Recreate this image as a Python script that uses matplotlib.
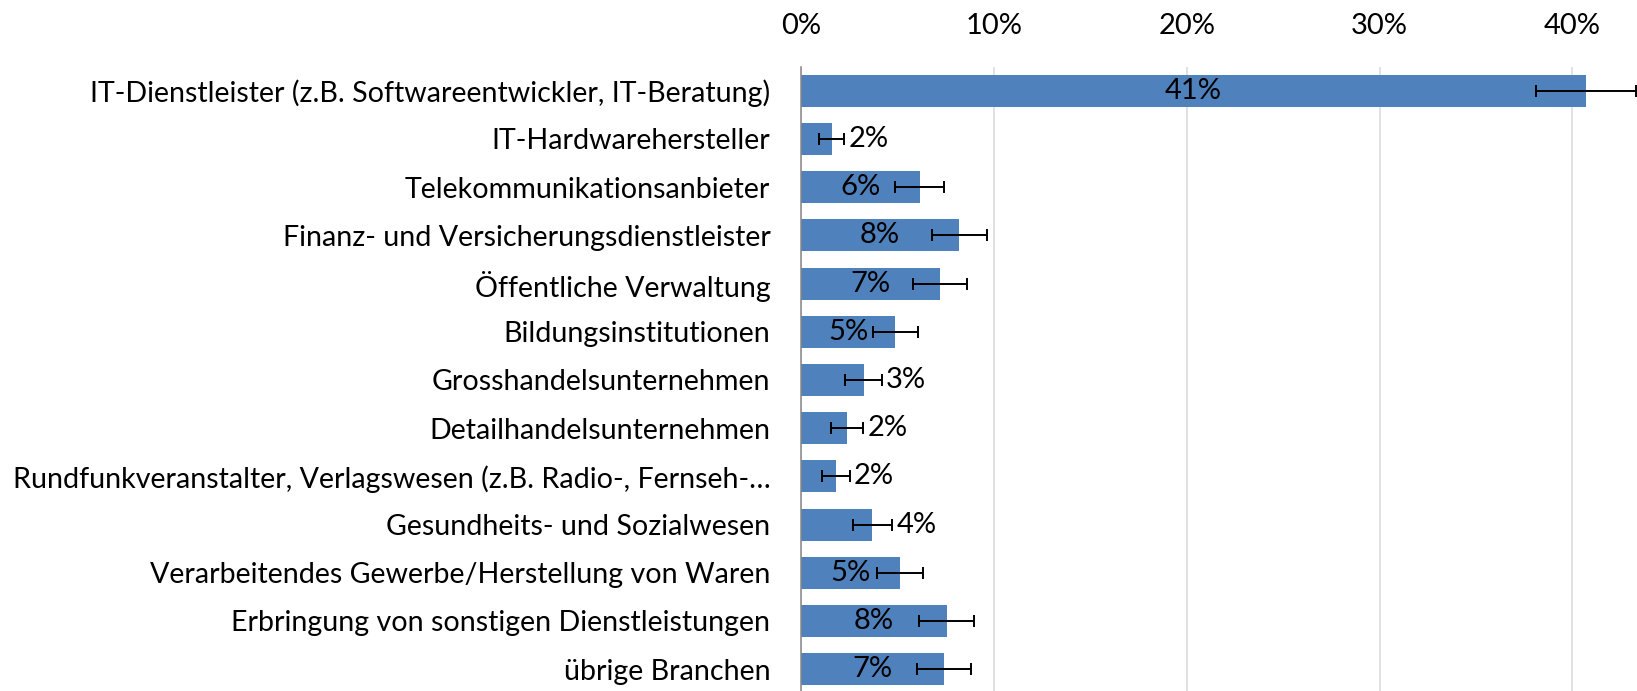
import matplotlib
matplotlib.use("Agg")
import matplotlib.pyplot as plt
from matplotlib.ticker import FuncFormatter

# data (percent of respondents)
categories = [
    "IT-Dienstleister (z.B. Softwareentwickler, IT-Beratung)",
    "IT-Hardwarehersteller",
    "Telekommunikationsanbieter",
    "Finanz- und Versicherungsdienstleister",
    "Öffentliche Verwaltung",
    "Bildungsinstitutionen",
    "Grosshandelsunternehmen",
    "Detailhandelsunternehmen",
    "Rundfunkveranstalter, Verlagswesen (z.B. Radio-, Fernseh-…",
    "Gesundheits- und Sozialwesen",
    "Verarbeitendes Gewerbe/Herstellung von Waren",
    "Erbringung von sonstigen Dienstleistungen",
    "übrige Branchen",
]
shares = [40.7, 1.6, 6.15, 8.2, 7.2, 4.9, 3.25, 2.4, 1.8, 3.7, 5.15, 7.55, 7.4]
errors = [2.6, 0.65, 1.27, 1.43, 1.39, 1.16, 0.95, 0.83, 0.73, 1.02, 1.19, 1.42, 1.41]
x_ticks = [0, 10, 20, 30, 40]

BAR_COLOR = "#4F81BD"
FONT = ["Lato", "DejaVu Sans"]
FS = 21

plt.rcParams["font.family"] = FONT

fig = plt.figure(figsize=(16.37, 6.91), dpi=100)
ax = fig.add_axes([801 / 1637, -0.0033, 1 - 801 / 1637, 0.9068])

ypos = list(range(len(categories)))
ax.barh(ypos, shares, height=0.665, color=BAR_COLOR, zorder=2)
ax.errorbar(shares, ypos, xerr=errors, fmt="none", ecolor="black",
            elinewidth=1.4, capsize=4.3, capthick=1.4, zorder=3, clip_on=False)

# data labels: centred in long bars, after the error bar for short ones
for y, v, e in zip(ypos, shares, errors):
    txt = f"{v:.0f}%"
    if v > 4.5:
        ax.text(v / 2, y, txt, ha="center", va="center", fontsize=FS, zorder=4)
    else:
        ax.annotate(txt, (v + e, y), xytext=(3, 0), textcoords="offset points",
                    ha="left", va="center", fontsize=FS, zorder=4)

ax.set_xlim(0, 43.35)
ax.set_ylim(len(categories) - 0.5, -0.5)
ax.set_xticks(x_ticks)
ax.xaxis.set_major_formatter(FuncFormatter(lambda x, _: f"{x:.0f}%"))
ax.set_yticks(ypos)
ax.set_yticklabels(categories)

ax.xaxis.tick_top()
ax.tick_params(axis="x", length=0, labelsize=FS, pad=20)
ax.tick_params(axis="y", length=0, labelsize=20.6, pad=22)

ax.grid(axis="x", color="#D9D9D9", linewidth=1.1, zorder=0)
ax.set_axisbelow(True)
for side in ["top", "right", "bottom"]:
    ax.spines[side].set_visible(False)
ax.spines["left"].set_color("#868686")
ax.spines["left"].set_linewidth(1.1)

fig.savefig("out.png", dpi=100)
